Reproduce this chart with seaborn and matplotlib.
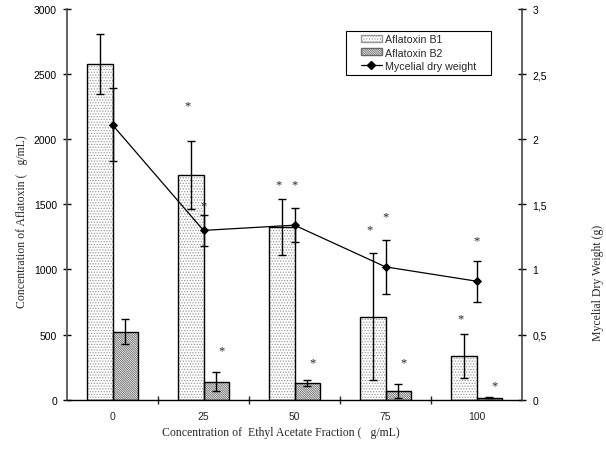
import numpy as np
import pandas as pd
import matplotlib
matplotlib.use("Agg")
import matplotlib.pyplot as plt
import seaborn as sns
from matplotlib.patches import Rectangle, Patch
from matplotlib.lines import Line2D
from matplotlib.ticker import FuncFormatter
from matplotlib.transforms import IdentityTransform

# ---------------- data ----------------
conc = ["0", "25", "50", "75", "100"]
b1 = [2578, 1725, 1324, 638, 333]
b1_err = [227, 258, 215, 489, 169]
b2 = [522, 136, 128, 67, 15]
b2_err = [95, 73, 22, 56, 4]
dry = [2.11, 1.30, 1.34, 1.02, 0.91]
dry_err = [0.28, 0.117, 0.13, 0.206, 0.158]
# significance marks (star heights)
b1_star = [np.nan, 2258, 1656, 1311, 628]
b2_star = [np.nan, 376, 290, 287, 113]
dry_star = [np.nan, 1.49, 1.656, 1.405, 1.226]
left_ticks = [0, 500, 1000, 1500, 2000, 2500, 3000]
right_ticks = [0, 0.5, 1, 1.5, 2, 2.5, 3]
labels = ["Aflatoxin B1", "Aflatoxin B2", "Mycelial dry weight"]

sns.set_theme(style="ticks")
plt.rcParams['font.family'] = ['Liberation Sans', 'DejaVu Sans']
plt.rcParams['hatch.linewidth'] = 0.6

W, H = 606, 452
fig = plt.figure(figsize=(W / 100, H / 100), dpi=100)
ax = fig.add_axes([67 / W, 1 - 400.7 / H, 455 / W, 390.7 / H])

df = pd.DataFrame({
    "conc": conc * 2,
    "toxin": [labels[0]] * len(conc) + [labels[1]] * len(conc),
    "value": b1 + b2,
})
sns.barplot(data=df, x="conc", y="value", hue="toxin", order=conc,
            hue_order=labels[:2], width=0.57, gap=0, errorbar=None,
            palette=["white", "white"], saturation=1, legend=False, ax=ax)

hatches = ['.' * 6, '\\' * 15]
hatch_colors = ['#9a9a9a', '#666666']
errs = [b1_err, b2_err]
stars = [b1_star, b2_star]
star_dx = [-0.03, 0.06]
serif = ['Liberation Serif', 'DejaVu Serif']
for cont, h, hc, err, st, dx in zip(ax.containers, hatches, hatch_colors, errs, stars, star_dx):
    xs, ys = [], []
    for p in cont.patches:
        p.set_hatch(h)
        p.set_edgecolor(hc)
        p.set_linewidth(0)
        ax.add_patch(Rectangle(p.get_xy(), p.get_width(), p.get_height(), fill=False,
                               edgecolor='black', linewidth=1.0, zorder=p.get_zorder() + 0.1))
        xs.append(p.get_x() + p.get_width() / 2)
        ys.append(p.get_height())
    ax.errorbar(xs, ys, yerr=err, fmt='none', ecolor='black', elinewidth=1,
                capsize=2.6, capthick=1, zorder=5)
    for x, s in zip(xs, st):
        if not np.isnan(s):
            ax.text(x + dx, s, "*", ha='center', va='center', fontsize=9, family=serif)

ax2 = ax.twinx()
sns.pointplot(x=conc, y=dry, order=conc, ax=ax2, color='black', markers='D',
              markersize=4, linewidth=0.9, errorbar=None)
px = ax2.lines[0].get_xdata()
ax2.errorbar(px, dry, yerr=dry_err, fmt='none', ecolor='black', elinewidth=1,
             capsize=2.6, capthick=1, zorder=5)
for x, s in zip(px, dry_star):
    if not np.isnan(s):
        ax2.text(x, s, "*", ha='center', va='center', fontsize=9, family=serif)

ax.set_xlim(-0.5, len(conc) - 0.5)
ax.set_ylim(0, 3000)
ax2.set_ylim(0, 3)
ax.set_yticks(left_ticks)
ax.set_yticklabels([str(t) for t in left_ticks])
ax2.set_yticks(right_ticks)
ax2.yaxis.set_major_formatter(FuncFormatter(lambda v, p: ('%g' % v).replace('.', ',')))
ax.set_xticks(range(len(conc)))
ax.set_xticklabels(conc)
ax.set_xticks(np.arange(0.5, len(conc) - 1, 1.0), minor=True)

ax.tick_params(axis='y', direction='inout', length=6, width=1, labelsize=7.5,
               pad=4.2, colors='black')
ax2.tick_params(axis='y', direction='inout', length=6, width=1, labelsize=7.5,
                pad=4.6, colors='black')
ax.tick_params(axis='x', which='major', length=0, labelsize=7.5, pad=8)
ax.tick_params(axis='x', which='minor', direction='inout', length=6, width=1)

for s in ['top', 'right']:
    ax.spines[s].set_visible(False)
for s in ['top', 'left', 'bottom']:
    ax2.spines[s].set_visible(False)
ax.spines['left'].set_color('#555555')
ax.spines['left'].set_linewidth(1.3)
ax.spines['bottom'].set_color('black')
ax.spines['bottom'].set_linewidth(1.0)
ax2.spines['right'].set_color('#444444')
ax2.spines['right'].set_linewidth(1.2)

ax.set_xlabel("Concentration of  Ethyl Acetate Fraction (   g/mL)", family=serif, fontsize=8.5)
ax.xaxis.set_label_coords(0.471, -0.067)
ax.set_ylabel("Concentration of Aflatoxin (   g/mL)", family=serif, fontsize=8.5)
ax.yaxis.set_label_coords(-0.086, 0.457)
ax2.set_ylabel("Mycelial Dry Weight (g)", family=serif, fontsize=8.5)
ax2.yaxis.set_label_coords(1.154, 0.301)

handles = [Patch(facecolor='white', edgecolor=hatch_colors[0], hatch=hatches[0]),
           Patch(facecolor='white', edgecolor=hatch_colors[1], hatch=hatches[1]),
           Line2D([], [], color='black', marker='D', markersize=4, lw=0.9)]
leg = ax2.legend(handles, labels, loc='upper left', bbox_to_anchor=(0.6374, 0.9445),
                 frameon=False, fontsize=7.7,
                 handlelength=2.0, handleheight=0.6, handletextpad=0.3,
                 labelspacing=0.3, borderpad=0.35, borderaxespad=0)

# legend frame with the wider side margins of the reference
fig.canvas.draw()
bb = leg.get_window_extent(fig.canvas.get_renderer())
margin = 11
fig.add_artist(Rectangle((bb.x0 - margin, bb.y0), bb.width + 2 * margin, bb.height,
                         transform=IdentityTransform(), fill=False,
                         edgecolor='black', linewidth=0.8, zorder=10))

fig.savefig("out.png", dpi=100)
